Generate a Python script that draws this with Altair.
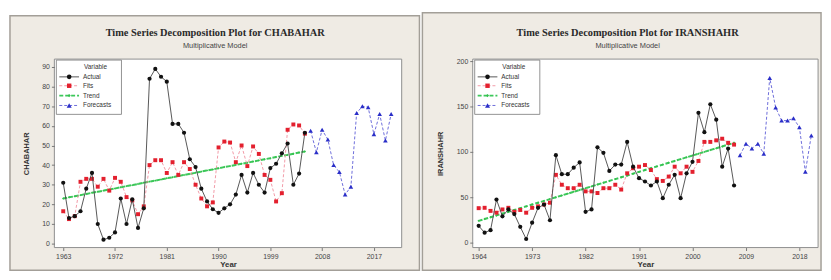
import altair as alt
import pandas as pd

SERIES = ["Actual", "Fits", "Trend", "Forecasts"]

# ---------------- CHABAHAR ----------------
cha_start = 1963
cha_actual = [31, 13, 14, 16.5, 28, 36, 10, 2, 3, 5.7,
              23, 10, 22.5, 8, 18, 84, 89, 85, 82.5, 61,
              61, 56.5, 43, 39, 28, 21.5, 17.5, 15.7, 18, 20,
              25, 35, 26, 36, 30, 26, 38.5, 40.7, 46, 51,
              30, 35.7, 56.5]
cha_fits = [16.5, 12.5, 14, 31.5, 33, 33, 29, 33, 27, 33.5,
            31.5, 23.7, 22, 15, 19, 40, 42.5, 42.5, 36, 41.5,
            35, 41.5, 38, 30, 23, 19, 21, 49, 52, 51.5,
            41.5, 50, 39.5, 49.5, 45.7, 35, 32.5, 21.5, 25.7, 58,
            60.7, 60.2, 56]
cha_trend = [23.0, 23.6, 24.1, 24.7, 25.3, 25.9, 26.4, 27.0, 27.6, 28.1,
             28.7, 29.3, 29.8, 30.4, 31.0, 31.6, 32.1, 32.7, 33.3, 33.8,
             34.4, 35.0, 35.5, 36.1, 36.7, 37.3, 37.8, 38.4, 39.0, 39.5,
             40.1, 40.7, 41.2, 41.8, 42.4, 43.0, 43.5, 44.1, 44.7, 45.2,
             45.8, 46.4, 46.9]
cha_fc_start = 2006
cha_forecast = [57.5, 46.5, 58, 53, 40, 36.5, 25, 29, 66.5, 70, 69.5, 55.7, 66, 52.5, 66]
cha_xticks = [1963, 1972, 1981, 1990, 1999, 2008, 2017]
cha_yticks = [0, 10, 20, 30, 40, 50, 60, 70, 80, 90]

# ---------------- IRANSHAHR ----------------
ira_start = 1964
ira_actual = [18.5, 11, 13.8, 47.5, 29, 36.6, 31.5, 17.4, 4, 22,
              38.4, 42, 24.7, 96.4, 75.4, 75.4, 82.6, 88.4, 34, 36.6,
              105, 99, 79, 86, 86, 111, 83.7, 71, 67.4, 63,
              67.4, 49, 63.8, 74.7, 49, 76.4, 89, 143, 121.7, 152.5,
              135.5, 83.7, 103.6, 63]
ira_fits = [38, 38.4, 35, 33, 36.6, 38.4, 34, 36, 33, 38.4,
            40, 42, 44, 74.7, 63.8, 60, 60, 63.8, 56.5, 56.5,
            54.7, 60, 60, 63.8, 58.5, 76.4, 82, 83.7, 85.5, 80,
            70, 68, 72.8, 83.7, 76.4, 83.7, 78, 90, 111, 111,
            112.7, 114.5, 110, 108]
ira_trend = [24, 26, 28, 30, 32, 34, 36, 38, 40, 42,
             44, 46, 48, 50, 52, 54, 56, 58, 60, 62,
             64, 66, 68, 70, 72, 74, 76, 78, 80, 82,
             84, 86, 88, 90, 92, 94, 96, 98, 100, 102,
             104, 106, 108, 110]
ira_fc_start = 2008
ira_forecast = [96.4, 109, 103.6, 109, 98, 181.5, 149, 134.5, 134.5, 137, 127, 78, 118]
ira_xticks = [1964, 1973, 1982, 1991, 2000, 2009, 2018]
ira_yticks = [0, 50, 100, 150, 200]

# ---------------- styles ----------------
PT_COLOR = {"Actual": "#111111", "Fits": "#e3202e", "Trend": "#33c04c", "Forecasts": "#2a2ec8"}
LN_COLOR = {"Actual": "#444444", "Fits": "#ee8090", "Trend": "#3cc85a", "Forecasts": "#5c5cd6"}
SHAPE = {"Actual": "circle", "Fits": "square", "Trend": "diamond", "Forecasts": "triangle-up"}
DASH = {"Actual": None, "Fits": [3, 2], "Trend": [4, 2], "Forecasts": [3, 2]}
LW = {"Actual": 0.9, "Fits": 0.8, "Trend": 2.0, "Forecasts": 0.9}
PSIZE = {"Actual": 18, "Fits": 16, "Trend": 6, "Forecasts": 22}
FONT = "Liberation Sans"
ONE = pd.DataFrame({"k": [0]})


def line_mark(s):
    kw = dict(color=LN_COLOR[s], strokeWidth=LW[s])
    if DASH[s]:
        kw["strokeDash"] = DASH[s]
    return kw


def panel(title, ylabel, start, actual, fits, trend, fc_start, forecast,
          xticks, xdomain, yticks, ydomain, width, height, frame, title_x,
          ytitle_pad):
    data = {
        "Actual": pd.DataFrame({"Year": list(range(start, start + len(actual))), "value": actual}),
        "Fits": pd.DataFrame({"Year": list(range(start, start + len(fits))), "value": fits}),
        "Trend": pd.DataFrame({"Year": list(range(start, start + len(trend))), "value": trend}),
        "Forecasts": pd.DataFrame({"Year": list(range(fc_start, fc_start + len(forecast))), "value": forecast}),
    }
    x_enc = alt.X("Year:Q",
                  scale=alt.Scale(domain=xdomain, nice=False, zero=False),
                  axis=alt.Axis(values=xticks, format="d", title="Year", grid=False,
                                domain=False, tickSize=3, tickColor="#777",
                                labelFontSize=7, labelColor="#444", labelFont=FONT,
                                labelPadding=2, titleFontSize=8, titleFont=FONT,
                                titleFontWeight="bold", titleColor="#333",
                                titlePadding=1, zindex=1))
    y_enc = alt.Y("value:Q",
                  scale=alt.Scale(domain=ydomain, nice=False, zero=False),
                  axis=alt.Axis(values=yticks, title=ylabel, grid=False,
                                domain=False, tickSize=3, tickColor="#777",
                                labelFontSize=7, labelColor="#444", labelFont=FONT,
                                labelPadding=2, titleFontSize=7.5, titleFont=FONT,
                                titleFontWeight="bold", titleColor="#333",
                                titlePadding=ytitle_pad, zindex=1))
    fx0, fx1, fy0, fy1 = frame
    layers = [
        alt.Chart(ONE).mark_rect(fill="#efebe4", stroke="#a39f98", strokeWidth=1.5).encode(
            x=alt.value(fx0), x2=alt.value(fx1), y=alt.value(fy0), y2=alt.value(fy1)),
        alt.Chart(ONE).mark_rect(fill="white", stroke="#8e8e8e", strokeWidth=1).encode(
            x=alt.value(0), x2=alt.value(width), y=alt.value(0), y2=alt.value(height)),
    ]
    for s in ["Trend", "Fits", "Actual", "Forecasts"]:
        df = data[s]
        layers.append(alt.Chart(df).mark_line(**line_mark(s)).encode(x=x_enc, y=y_enc))
        layers.append(alt.Chart(df).mark_point(shape=SHAPE[s], filled=True, color=PT_COLOR[s],
                                               size=PSIZE[s], opacity=1).encode(x=x_enc, y=y_enc))
    # legend box
    layers.append(alt.Chart(ONE).mark_rect(fill="white", stroke="#777", strokeWidth=0.8).encode(
        x=alt.value(2), x2=alt.value(68), y=alt.value(1), y2=alt.value(56)))
    layers.append(alt.Chart(pd.DataFrame({"t": ["Variable"]})).mark_text(
        align="left", baseline="middle", fontSize=6.5, font=FONT, color="#333").encode(
        x=alt.value(30), y=alt.value(8), text="t:N"))
    leg_y = [18, 27, 37, 47]
    for i, s in enumerate(SERIES):
        layers.append(alt.Chart(ONE).mark_rule(**line_mark(s)).encode(
            x=alt.value(5), x2=alt.value(25), y=alt.value(leg_y[i])))
        layers.append(alt.Chart(ONE).mark_point(shape=SHAPE[s], filled=True, color=PT_COLOR[s],
                                                size=PSIZE[s] + 4, opacity=1).encode(
            x=alt.value(15), y=alt.value(leg_y[i])))
        layers.append(alt.Chart(pd.DataFrame({"t": [s]})).mark_text(
            align="left", baseline="middle", fontSize=6.5, font=FONT, color="#333").encode(
            x=alt.value(29), y=alt.value(leg_y[i]), text="t:N"))
    # titles
    layers.append(alt.Chart(pd.DataFrame({"t": [title]})).mark_text(
        align="center", baseline="middle", fontSize=10.5, font="Liberation Serif",
        fontWeight="bold", color="#2a2a2a").encode(x=alt.value(title_x), y=alt.value(-26), text="t:N"))
    layers.append(alt.Chart(pd.DataFrame({"t": ["Multiplicative Model"]})).mark_text(
        align="center", baseline="middle", fontSize=7.5, font=FONT, color="#444").encode(
        x=alt.value(title_x), y=alt.value(-13), text="t:N"))
    return alt.layer(*layers).properties(width=width, height=height)


left = panel("Time Series Decomposition Plot for CHABAHAR", "CHABAHAR",
             cha_start, cha_actual, cha_fits, cha_trend, cha_fc_start, cha_forecast,
             cha_xticks, [1961.46, 2021.83], cha_yticks, [-2, 94],
             352, 191, (-45, 370, -44, 214), 163, 11)
right = panel("Time Series Decomposition Plot for IRANSHAHR", "IRANSHAHR",
              ira_start, ira_actual, ira_fits, ira_trend, ira_fc_start, ira_forecast,
              ira_xticks, [1963.0, 2021.14], ira_yticks, [-5.4, 202.2],
              350, 191, (-51, 353, -47, 214), 157, 12)

chart = alt.hconcat(left, right, spacing=72, bounds="flush").properties(
    padding={"left": 0, "top": 1, "right": 0, "bottom": 0}
).configure_view(strokeWidth=0, fill=None).configure(background="white")

chart.save("out.html", embed_options={"renderer": "svg", "actions": False})
